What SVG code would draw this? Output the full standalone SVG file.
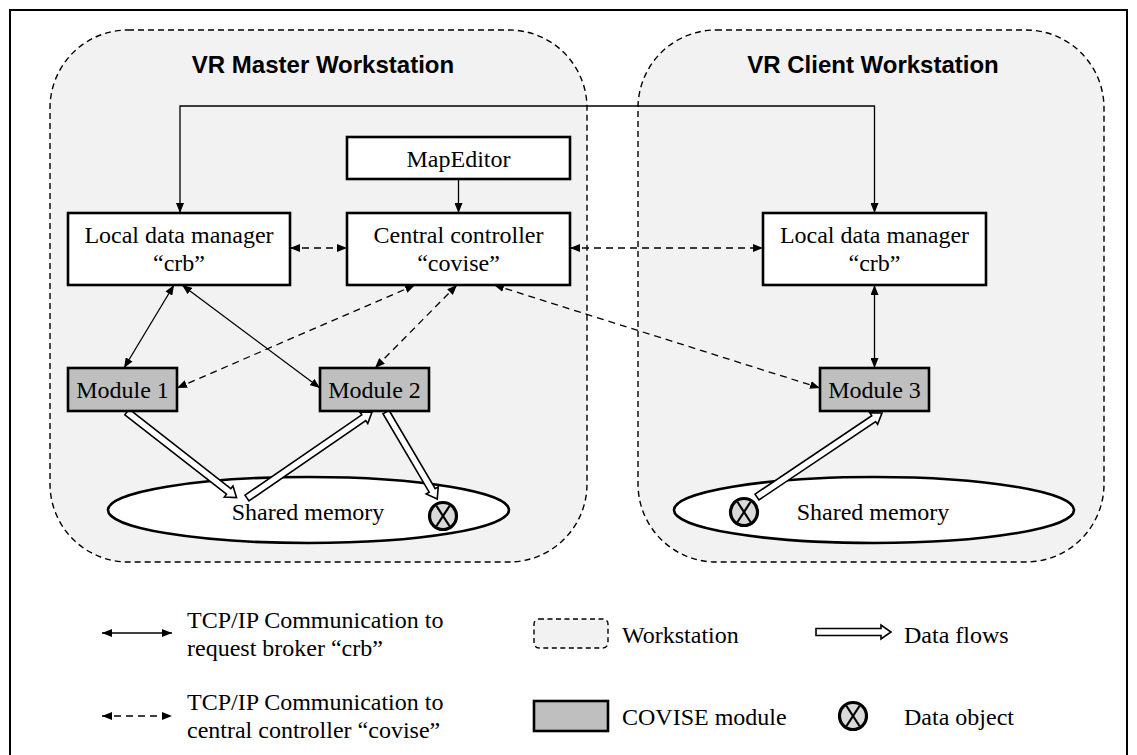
<svg xmlns="http://www.w3.org/2000/svg" width="1137" height="755" viewBox="0 0 1137 755">
<defs>
<style>
.frame{fill:#fff;stroke:#000;stroke-width:2}
.ws{fill:#f2f2f2;stroke:#000;stroke-width:1.4;stroke-dasharray:6 4}
.box{fill:#fff;stroke:#000;stroke-width:2.6}
.mod{fill:#bfbfbf;stroke:#000;stroke-width:2.6}
.mem{fill:#fff;stroke:#000;stroke-width:2.6}
.t{font-family:"Liberation Serif","Times New Roman",serif;font-size:24px;fill:#000}
.c{text-anchor:middle}
.title{font-family:"Liberation Sans",Arial,sans-serif;font-weight:bold;font-size:24px;text-anchor:middle;fill:#000}
.sl{fill:none;stroke:#000;stroke-width:1.3;marker-start:url(#ah);marker-end:url(#ah)}
.dl{fill:none;stroke:#000;stroke-width:1.3;stroke-dasharray:7 5;marker-start:url(#ah);marker-end:url(#ah)}
.se{fill:none;stroke:#000;stroke-width:1.3;marker-end:url(#ah)}
.flow{fill:#fff;stroke:#000;stroke-width:1.6;stroke-linejoin:miter}
.dobj{fill:#d9d9d9;stroke:#000;stroke-width:3.2}
.x{stroke:#000;stroke-width:2.2}
</style>
<marker id="ah" viewBox="0 0 10 8" refX="10" refY="4" markerWidth="10" markerHeight="8" markerUnits="userSpaceOnUse" orient="auto-start-reverse">
<path d="M0,0 L10,4 L0,8 Z" fill="#000"/>
</marker>
<g id="dataobj">
<circle cx="0" cy="0" r="13.5" class="dobj"/>
<line x1="-6.5" y1="-10" x2="6.5" y2="10" class="x"/>
<line x1="6.5" y1="-10" x2="-6.5" y2="10" class="x"/>
</g>
</defs>

<rect x="10" y="10" width="1117" height="760" class="frame"/>

<g id="ws-master">
<rect x="50" y="30" width="537" height="532" rx="78" ry="78" class="ws"/>
<text x="323" y="73" class="title">VR Master Workstation</text>
</g>
<g id="ws-client">
<rect x="638" y="30" width="466" height="532" rx="78" ry="78" class="ws"/>
<text x="873" y="73" class="title">VR Client Workstation</text>
</g>

<g id="mem-master">
<ellipse cx="308.5" cy="510" rx="200.5" ry="33" class="mem"/>
<text x="308" y="520" class="t c">Shared memory</text>
</g>
<g id="mem-client">
<ellipse cx="874" cy="510" rx="200" ry="33" class="mem"/>
<text x="873" y="520" class="t c">Shared memory</text>
</g>

<g id="connectors">
<polyline points="180,213 180,106 874.5,106 874.5,213" class="sl"/>
<line x1="290" y1="248" x2="347" y2="248" class="dl"/>
<line x1="570" y1="248" x2="763" y2="248" class="dl"/>
<line x1="458.5" y1="179" x2="458.5" y2="213" class="se"/>
<line x1="174" y1="285" x2="124" y2="368" class="sl"/>
<line x1="182" y1="285" x2="320" y2="388" class="sl"/>
<line x1="415" y1="285" x2="177" y2="388" class="dl"/>
<line x1="457" y1="285" x2="375" y2="368" class="dl"/>
<line x1="494" y1="285" x2="820" y2="388" class="dl"/>
<line x1="874.5" y1="285" x2="874.5" y2="368" class="sl"/>
<g id="flows">
<path transform="translate(127,412) rotate(38)" d="M0,-3.5 H129 V-7 L139,0 L129,7 V3.5 H0 Z" class="flow"/>
<path transform="translate(247,498) rotate(-34.5)" d="M0,-3.5 H141.7 V-7 L151.7,0 L141.7,7 V3.5 H0 Z" class="flow"/>
<path transform="translate(386,412) rotate(59.5)" d="M0,-3.5 H91 V-7 L101,0 L91,7 V3.5 H0 Z" class="flow"/>
<path transform="translate(757,497) rotate(-33.9)" d="M0,-3.5 H140.6 V-7 L150.6,0 L140.6,7 V3.5 H0 Z" class="flow"/>
</g>
</g>

<g id="mapeditor">
<rect x="347" y="137" width="223" height="42" class="box"/>
<text x="458.5" y="167" class="t c">MapEditor</text>
</g>
<g id="ldm-master">
<rect x="68" y="213" width="222" height="72" class="box"/>
<text x="179" y="243" class="t c">Local data manager</text>
<text x="179" y="271" class="t c">“crb”</text>
</g>
<g id="central-controller">
<rect x="347" y="213" width="223" height="72" class="box"/>
<text x="458.5" y="243" class="t c">Central controller</text>
<text x="458.5" y="271" class="t c">“covise”</text>
</g>
<g id="ldm-client">
<rect x="763" y="213" width="223" height="72" class="box"/>
<text x="874.5" y="243" class="t c">Local data manager</text>
<text x="874.5" y="271" class="t c">“crb”</text>
</g>
<g id="module1">
<rect x="68" y="368" width="109" height="43" class="mod"/>
<text x="122.5" y="398" class="t c">Module 1</text>
</g>
<g id="module2">
<rect x="320" y="368" width="109" height="43" class="mod"/>
<text x="374.5" y="398" class="t c">Module 2</text>
</g>
<g id="module3">
<rect x="820" y="368" width="109" height="43" class="mod"/>
<text x="874.5" y="398" class="t c">Module 3</text>
</g>
<g id="dataobj-master"><use href="#dataobj" x="443" y="516"/></g>
<g id="dataobj-client"><use href="#dataobj" x="744" y="512"/></g>

<g id="legend">
<line x1="102" y1="633" x2="172" y2="633" class="sl"/>
<text x="187" y="628" class="t">TCP/IP Communication to</text>
<text x="187" y="656" class="t">request broker “crb”</text>
<line x1="102" y1="716" x2="172" y2="716" class="sl" style="stroke-dasharray:7 5"/>
<text x="187" y="710" class="t">TCP/IP Communication to</text>
<text x="187" y="738" class="t">central controller “covise”</text>
<rect x="534" y="619" width="74" height="29" rx="5" ry="5" class="ws" style="stroke-dasharray:5 3.5"/>
<text x="622" y="643" class="t">Workstation</text>
<rect x="534" y="701" width="74" height="30" class="mod"/>
<text x="622" y="725" class="t">COVISE module</text>
<path transform="translate(816,632)" d="M0,-3.5 H65 V-7 L75,0 L65,7 V3.5 H0 Z" class="flow"/>
<text x="904" y="643" class="t">Data flows</text>
<use href="#dataobj" x="853" y="716"/>
<text x="904" y="725" class="t">Data object</text>
</g>
</svg>
